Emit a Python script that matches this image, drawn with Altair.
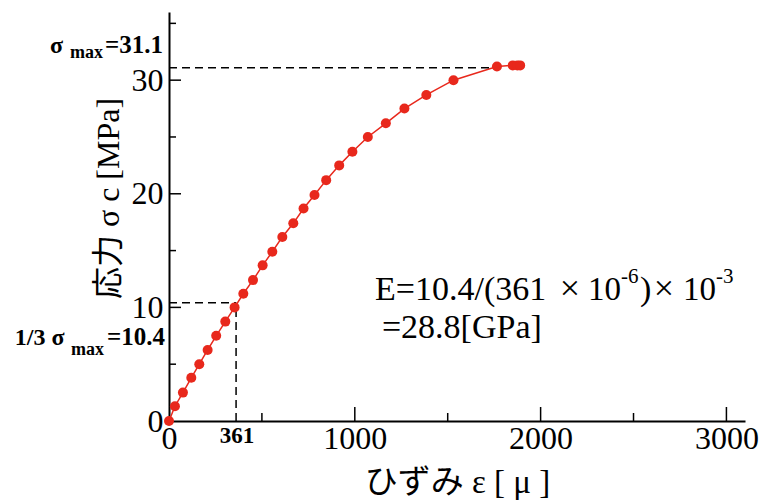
import altair as alt
import pandas as pd

# ---- data ----
strain = [0, 32, 75, 120, 163, 208, 254, 303, 353, 400, 452, 504, 556, 610, 669,
          724, 783, 846, 916, 987, 1070, 1167, 1267, 1385, 1531, 1765, 1850, 1875, 1890]
stress = [0, 1.3, 2.5, 3.8, 5.0, 6.25, 7.5, 8.75, 10.0, 11.2, 12.4, 13.7, 14.9, 16.2, 17.4,
          18.7, 19.9, 21.2, 22.5, 23.7, 25.0, 26.2, 27.5, 28.7, 30.0, 31.2, 31.3, 31.3, 31.3]

sigma_max = 31.1
sigma_third = 10.4
strain_third = 361

x_ticks_major = [1000, 2000, 3000]
x_ticks_minor = [500, 1500, 2500]
y_ticks_major = [10, 20, 30]
y_ticks_minor = [5, 15, 25, 35]
x_label_values = [0, 1000, 2000, 3000]
y_label_values = [0, 10, 20, 30]

# annotation texts (positions in data units)
bold_left_text = ["σ", "max", "1/3 σ", "max"]
bold_left_x = [-640, -533, -830, -527]
bold_left_y = [32.39, 31.95, 6.69, 5.81]
bold_left_size = [24, 18, 24, 18]

bold_right_text = ["=31.1", "=10.4"]
bold_right_x = [-32, -22]
bold_right_y = [32.39, 6.69]
bold_right_size = [25, 25]

bold_center_text = ["361"]
bold_center_x = [366]
bold_center_y = [-1.94]
bold_center_size = [23]

eq_left_text = ["E=10.4/(361", "10", "-6", ")", "10", "-3", "=28.8[GPa]"]
eq_left_x = [1109, 2255, 2433, 2535, 2766, 2944, 1146]
eq_left_y = [10.65, 10.65, 12.15, 10.65, 10.65, 12.15, 7.31]
eq_left_size = [34, 33, 21, 34, 33, 21, 34]

eq_center_text = ["×", "×"]
eq_center_x = [2158, 2664]
eq_center_y = [10.65, 10.65]
eq_center_size = [36, 36]

SERIF = "Liberation Serif, Noto Sans CJK JP"
RED = "#e8281c"

W, H = 576, 409
xs = alt.Scale(domain=[0, 3100], nice=False, zero=False)
ys = alt.Scale(domain=[0, 36], nice=False, zero=False)

df = pd.DataFrame({"strain": strain, "stress": stress, "order": list(range(len(strain)))})

base_x = alt.X("strain:Q", scale=xs, axis=alt.Axis(
    values=x_label_values, format="d", title="ひずみ ε [ μ ]",
    ticks=False, grid=False, domainColor="black", domainWidth=2,
    labelFont=SERIF, labelFontSize=32, labelColor="black", labelPadding=2,
    labelFlush=False, labelOverlap=False,
    titleFont=SERIF, titleFontSize=33, titleFontWeight="normal", titleColor="black",
    titleY=71, titleBaseline="alphabetic"))
base_y = alt.Y("stress:Q", scale=ys, axis=alt.Axis(
    values=y_label_values, format="d", title="応力 σ c [MPa]",
    ticks=False, grid=False, domainColor="black", domainWidth=2,
    labelFont=SERIF, labelFontSize=32, labelColor="black", labelPadding=6,
    labelFlush=False, labelOverlap=False,
    titleFont=SERIF, titleFontSize=32, titleFontWeight="normal", titleColor="black",
    titleX=-51, titleY=186, titleBaseline="alphabetic", titleAlign="center"))

line = alt.Chart(df).mark_line(color=RED, strokeWidth=1.5).encode(x=base_x, y=base_y, order="order:Q")
pts = alt.Chart(df).mark_circle(color=RED, size=100, opacity=1).encode(x="strain:Q", y="stress:Q")

# dashed guide lines
dash_df = pd.DataFrame({
    "x1": [0, 0, strain_third], "x2": [1765, strain_third, strain_third],
    "y1": [sigma_max, sigma_third, 0], "y2": [sigma_max, sigma_third, sigma_third]})
dashes = alt.Chart(dash_df).mark_rule(color="black", strokeWidth=1.5, strokeDash=[8, 5]).encode(
    x=alt.X("x1:Q", scale=xs), x2="x2:Q", y=alt.Y("y1:Q", scale=ys), y2="y2:Q")

# inward ticks
xt_major = alt.Chart(pd.DataFrame({"v": x_ticks_major})).mark_rule(color="black", strokeWidth=1.5).encode(
    x=alt.X("v:Q", scale=xs), y=alt.value(H), y2=alt.value(H - 14))
xt_minor = alt.Chart(pd.DataFrame({"v": x_ticks_minor})).mark_rule(color="black", strokeWidth=1.5).encode(
    x=alt.X("v:Q", scale=xs), y=alt.value(H), y2=alt.value(H - 8))
yt_major = alt.Chart(pd.DataFrame({"v": y_ticks_major})).mark_rule(color="black", strokeWidth=1.5).encode(
    y=alt.Y("v:Q", scale=ys), x=alt.value(0), x2=alt.value(12))
yt_minor = alt.Chart(pd.DataFrame({"v": y_ticks_minor})).mark_rule(color="black", strokeWidth=1.5).encode(
    y=alt.Y("v:Q", scale=ys), x=alt.value(0), x2=alt.value(7))


def text_layer(texts, xv, yv, sizes, align, weight):
    d = pd.DataFrame({"t": texts, "x": xv, "y": yv, "s": sizes})
    return alt.Chart(d).mark_text(align=align, baseline="alphabetic", font=SERIF,
                                  fontWeight=weight, color="black").encode(
        x=alt.X("x:Q", scale=xs), y=alt.Y("y:Q", scale=ys), text="t:N",
        size=alt.Size("s:Q", scale=None, legend=None))


t1 = text_layer(bold_left_text, bold_left_x, bold_left_y, bold_left_size, "left", "bold")
t2 = text_layer(bold_right_text, bold_right_x, bold_right_y, bold_right_size, "right", "bold")
t3 = text_layer(bold_center_text, bold_center_x, bold_center_y, bold_center_size, "center", "bold")
t4 = text_layer(eq_left_text, eq_left_x, eq_left_y, eq_left_size, "left", "normal")
t5 = text_layer(eq_center_text, eq_center_x, eq_center_y, eq_center_size, "center", "normal")

chart = alt.layer(line, dashes, pts, xt_major, xt_minor, yt_major, yt_minor, t1, t2, t3, t4, t5).properties(
    width=W, height=H,
    autosize=alt.AutoSizeParams(type="none"),
    padding={"left": 169, "top": 12, "right": 19, "bottom": 83},
    background="white",
).configure_view(stroke=None)

chart.save("out.html", embed_options={"renderer": "svg", "actions": False})
